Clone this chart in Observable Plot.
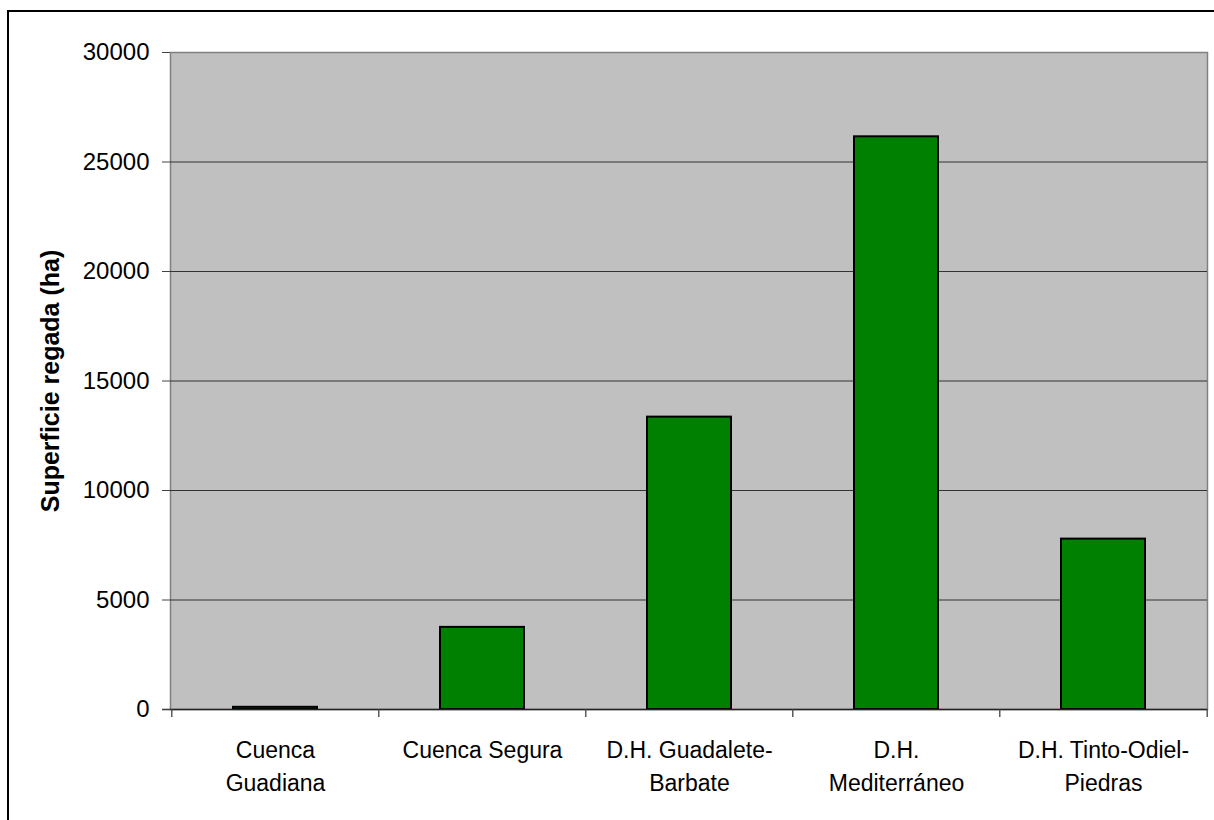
<!DOCTYPE html>
<html>
<head>
<meta charset="utf-8">
<script src="https://cdn.jsdelivr.net/npm/d3@7"></script>
<script src="https://cdn.jsdelivr.net/npm/@observablehq/plot@0.6"></script>
<style>
  html, body { margin: 0; padding: 0; background: white; overflow: hidden; }
  #wrap { position: relative; width: 1214px; height: 820px; }
  #frame { position: absolute; left: 7px; top: 10px; width: 1220px; height: 830px; border: 2px solid black; box-sizing: border-box; }
  #chart { position: absolute; left: 0; top: 0; }
</style>
</head>
<body>
<div id="wrap"><div id="frame"></div><div id="chart"></div></div>
<script>
const categories = ["Cuenca Guadiana", "Cuenca Segura", "D.H. Guadalete-Barbate", "D.H. Mediterráneo", "D.H. Tinto-Odiel-Piedras"];
const tickLabels = ["Cuenca\nGuadiana", "Cuenca Segura", "D.H. Guadalete-\nBarbate", "D.H.\nMediterráneo", "D.H. Tinto-Odiel-\nPiedras"];
const values = [100, 3750, 13350, 26150, 7780];
const yTicks = [0, 5000, 10000, 15000, 20000, 25000, 30000];
const yLabel = "Superficie regada (ha)";

const data = categories.map((c, i) => ({cat: c, value: values[i]}));
const W = 1214, H = 820, mL = 170, mR = 7, mT = 52, mB = 111;
const step = (W - mL - mR) / categories.length;

const chart = Plot.plot({
  width: W,
  height: H,
  marginLeft: mL,
  marginRight: mR,
  marginTop: mT,
  marginBottom: mB,
  style: {background: "transparent", fontFamily: "'Liberation Sans', Arial, sans-serif", color: "black"},
  x: {domain: categories, paddingInner: 0.595, paddingOuter: 0.2975, align: 0.5},
  y: {domain: [0, 30000]},
  marks: [
    Plot.frame({fill: "#c0c0c0", stroke: "#808080", strokeWidth: 1.5}),
    Plot.ruleY(yTicks.filter(d => d > 0 && d < 30000), {stroke: "#333", strokeWidth: 1.2}),
    Plot.barY(data, {x: "cat", y: "value", fill: "#008000", stroke: "black", strokeWidth: 2}),
    Plot.ruleX([0], {stroke: "#444", strokeWidth: 1.5}),
    Plot.ruleY([0], {stroke: "#222", strokeWidth: 1.5, insetLeft: -8}),
    Plot.ruleX(categories, {x: d => d, y1: 0, y2: 0, insetTop: 8, dx: -step / 2, stroke: "#444", strokeWidth: 1.3}),
    Plot.ruleX([categories[categories.length - 1]], {x: d => d, y1: 0, y2: 0, insetTop: 8, dx: step / 2, stroke: "#444", strokeWidth: 1.3}),
    Plot.axisY({ticks: yTicks, tickSize: 8, tickPadding: 13, fontSize: 24, tickFormat: d => String(d), label: null, stroke: "#444"}),
    Plot.axisX({tickSize: 0, tickPadding: 25, fontSize: 23, lineHeight: 1.43, tickFormat: (d, i) => tickLabels[categories.indexOf(d)], label: null}),
    Plot.text([yLabel], {frameAnchor: "left", textAnchor: "middle", dx: -120, rotate: -90, fontSize: 25, fontWeight: "bold", text: d => d})
  ]
});
document.getElementById("chart").appendChild(chart);
</script>
</body>
</html>
